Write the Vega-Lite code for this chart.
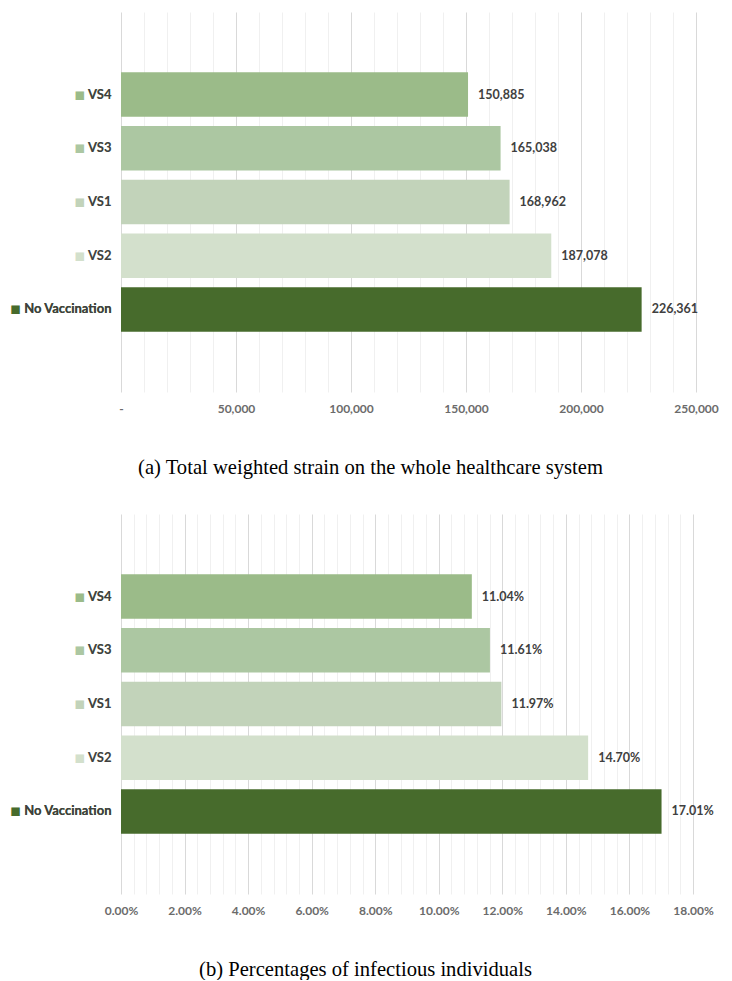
{
  "$schema": "https://vega.github.io/schema/vega-lite/v6.json",
  "padding": {"left": 5, "top": 12, "right": 10, "bottom": 0},
  "background": "white",
  "config": {"view": {"stroke": null}, "concat": {"spacing": 36}},
  "datasets": {
    "strain": [
      {"scenario": "VS4", "value": 150885},
      {"scenario": "VS3", "value": 165038},
      {"scenario": "VS1", "value": 168962},
      {"scenario": "VS2", "value": 187078},
      {"scenario": "No Vaccination", "value": 226361}
    ],
    "infect": [
      {"scenario": "VS4", "value": 0.1104},
      {"scenario": "VS3", "value": 0.1161},
      {"scenario": "VS1", "value": 0.1197},
      {"scenario": "VS2", "value": 0.147},
      {"scenario": "No Vaccination", "value": 0.1701}
    ]
  },
  "vconcat": [
    {
      "width": 575,
      "height": 380,
      "data": {"name": "strain"},
      "resolve": {"axis": {"x": "independent", "y": "independent"}},
      "layer": [
        {
          "mark": {"type": "bar"},
          "encoding": {
            "y": {
              "field": "scenario", "type": "nominal",
              "scale": {"domain": ["", "VS4", "VS3", "VS1", "VS2", "No Vaccination", " "], "paddingInner": 0.172, "paddingOuter": 0.121},
              "axis": {
                "orient": "left", "title": null, "domain": false, "ticks": false, "grid": false,
                "labelPadding": 10, "minExtent": 116, "maxExtent": 116,
                "labelFont": "Lato, 'DejaVu Sans'", "labelFontSize": 13, "labelFontWeight": "bold",
                "labelExpr": "trim(datum.label) == '' ? '' : '\u25fc ' + datum.label",
                "labelColor": {
                  "condition": [
                    {"test": "datum.value === 'VS4'", "value": "#9bbb89"},
                    {"test": "datum.value === 'VS3'", "value": "#acc7a2"},
                    {"test": "datum.value === 'VS1'", "value": "#c2d3ba"},
                    {"test": "datum.value === 'VS2'", "value": "#d3e0cc"}
                  ],
                  "value": "#476b2c"
                }
              }
            },
            "x": {
              "field": "value", "type": "quantitative",
              "scale": {"domain": [0, 250000], "nice": false},
              "axis": {
                "orient": "bottom",
                "values": [0, 50000, 100000, 150000, 200000, 250000],
                "labelExpr": "datum.value == 0 ? '-' : format(datum.value, ',')",
                "labelFlush": false, "labelOverlap": false,
                "grid": true, "gridColor": "#d9d9d9", "gridWidth": 1,
                "domain": false, "ticks": false, "labelPadding": 11,
                "labelFont": "Lato", "labelFontSize": 12, "labelFontWeight": "bold", "labelColor": "#6b6b6b",
                "title": "(a) Total weighted strain on the whole healthcare system",
                "titleFont": "Liberation Serif", "titleFontSize": 20.6, "titleFontWeight": "normal",
                "titleColor": "#000000", "titlePadding": 43, "titleX": 249
              }
            },
            "color": {
              "field": "scenario", "type": "nominal", "legend": null,
              "scale": {
                "domain": ["VS4", "VS3", "VS1", "VS2", "No Vaccination"],
                "range": ["#9bbb89", "#acc7a2", "#c2d3ba", "#d3e0cc", "#476b2c"]
              }
            }
          }
        },
        {
          "mark": {"type": "text", "align": "left", "baseline": "middle", "dx": 10, "font": "Lato", "fontSize": 12.5, "fontWeight": "bold", "color": "#404040"},
          "encoding": {
            "y": {
              "field": "scenario", "type": "nominal",
              "axis": {
                "orient": "left", "title": null, "domain": false, "ticks": false, "grid": false,
                "labelPadding": 10, "minExtent": 116, "maxExtent": 116,
                "labelFont": "Lato", "labelFontSize": 13, "labelFontWeight": "bold", "labelColor": "#404040"
              }
            },
            "x": {
              "field": "value", "type": "quantitative",
              "axis": {
                "orient": "bottom", "labels": false, "ticks": false, "domain": false, "title": null,
                "grid": true, "gridColor": "#f0f0f0",
                "values": [10000, 20000, 30000, 40000, 60000, 70000, 80000, 90000, 110000, 120000, 130000, 140000, 160000, 170000, 180000, 190000, 210000, 220000, 230000, 240000]
              }
            },
            "text": {"field": "value", "type": "quantitative", "format": ","}
          }
        }
      ]
    },
    {
      "width": 572,
      "height": 380,
      "data": {"name": "infect"},
      "resolve": {"axis": {"x": "independent", "y": "independent"}},
      "layer": [
        {
          "mark": {"type": "bar"},
          "encoding": {
            "y": {
              "field": "scenario", "type": "nominal",
              "scale": {"domain": ["", "VS4", "VS3", "VS1", "VS2", "No Vaccination", " "], "paddingInner": 0.172, "paddingOuter": 0.121},
              "axis": {
                "orient": "left", "title": null, "domain": false, "ticks": false, "grid": false,
                "labelPadding": 10, "minExtent": 116, "maxExtent": 116,
                "labelFont": "Lato, 'DejaVu Sans'", "labelFontSize": 13, "labelFontWeight": "bold",
                "labelExpr": "trim(datum.label) == '' ? '' : '\u25fc ' + datum.label",
                "labelColor": {
                  "condition": [
                    {"test": "datum.value === 'VS4'", "value": "#9bbb89"},
                    {"test": "datum.value === 'VS3'", "value": "#acc7a2"},
                    {"test": "datum.value === 'VS1'", "value": "#c2d3ba"},
                    {"test": "datum.value === 'VS2'", "value": "#d3e0cc"}
                  ],
                  "value": "#476b2c"
                }
              }
            },
            "x": {
              "field": "value", "type": "quantitative",
              "scale": {"domain": [0, 0.18], "nice": false},
              "axis": {
                "orient": "bottom",
                "values": [0, 0.02, 0.04, 0.06, 0.08, 0.1, 0.12, 0.14, 0.16, 0.18],
                "format": ".2%",
                "labelFlush": false, "labelOverlap": false,
                "grid": true, "gridColor": "#d9d9d9", "gridWidth": 1,
                "domain": false, "ticks": false, "labelPadding": 11,
                "labelFont": "Lato", "labelFontSize": 12, "labelFontWeight": "bold", "labelColor": "#6b6b6b",
                "title": "(b) Percentages of infectious individuals",
                "titleFont": "Liberation Serif", "titleFontSize": 20.6, "titleFontWeight": "normal",
                "titleColor": "#000000", "titlePadding": 43, "titleX": 244
              }
            },
            "color": {
              "field": "scenario", "type": "nominal", "legend": null,
              "scale": {
                "domain": ["VS4", "VS3", "VS1", "VS2", "No Vaccination"],
                "range": ["#9bbb89", "#acc7a2", "#c2d3ba", "#d3e0cc", "#476b2c"]
              }
            }
          }
        },
        {
          "mark": {"type": "text", "align": "left", "baseline": "middle", "dx": 10, "font": "Lato", "fontSize": 12.5, "fontWeight": "bold", "color": "#404040"},
          "encoding": {
            "y": {
              "field": "scenario", "type": "nominal",
              "axis": {
                "orient": "left", "title": null, "domain": false, "ticks": false, "grid": false,
                "labelPadding": 10, "minExtent": 116, "maxExtent": 116,
                "labelFont": "Lato", "labelFontSize": 13, "labelFontWeight": "bold", "labelColor": "#404040"
              }
            },
            "x": {
              "field": "value", "type": "quantitative",
              "axis": {
                "orient": "bottom", "labels": false, "ticks": false, "domain": false, "title": null,
                "grid": true, "gridColor": "#f0f0f0",
                "values": [0.004, 0.008, 0.012, 0.016, 0.024, 0.028, 0.032, 0.036, 0.044, 0.048, 0.052, 0.056, 0.064, 0.068, 0.072, 0.076, 0.084, 0.088, 0.092, 0.096, 0.104, 0.108, 0.112, 0.116, 0.124, 0.128, 0.132, 0.136, 0.144, 0.148, 0.152, 0.156, 0.164, 0.168, 0.172, 0.176]
              }
            },
            "text": {"field": "value", "type": "quantitative", "format": ".2%"}
          }
        }
      ]
    }
  ]
}
